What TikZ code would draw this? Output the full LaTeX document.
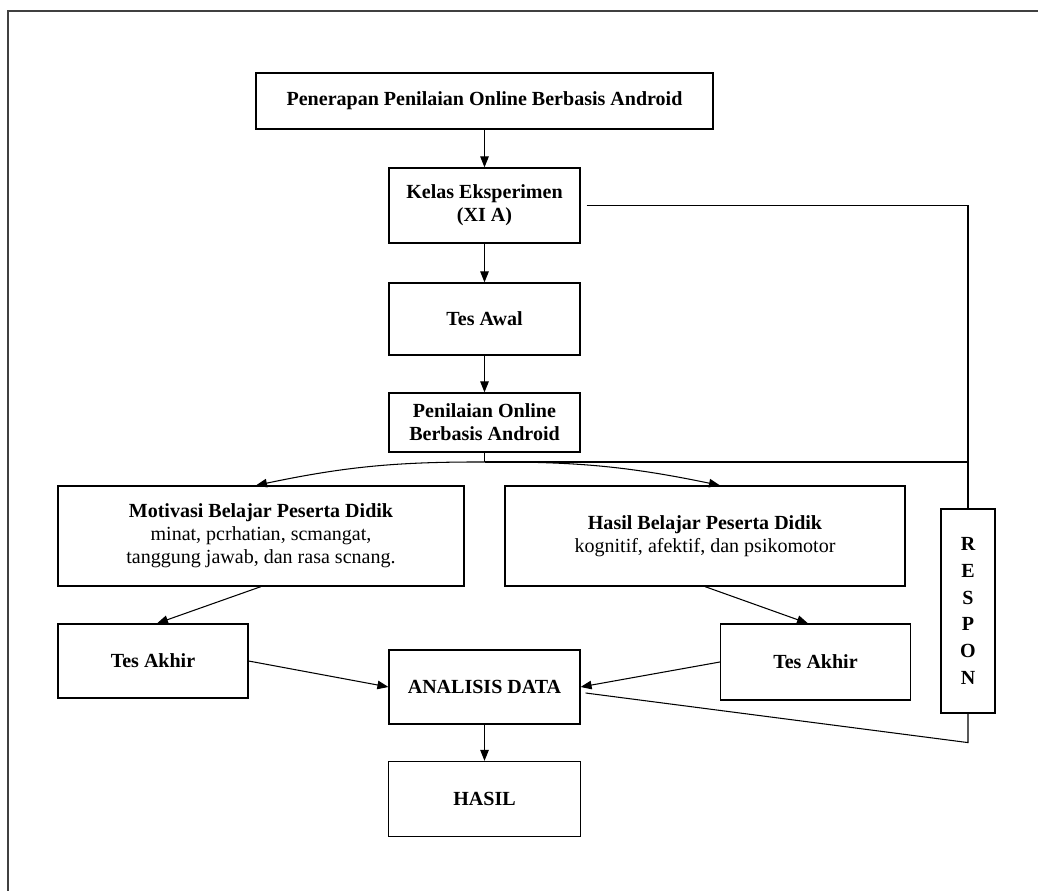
\documentclass[tikz,border=0pt]{standalone}
\usepackage{fontspec}
\setmainfont{Liberation Serif}
\usetikzlibrary{arrows.meta}
\usetikzlibrary{calc}

\begin{document}
\begin{tikzpicture}[x = 0.02cm, y = -0.02cm,
        box/.style = {draw, line width = 0.7pt, align = center, inner sep = 2pt, font = \fontsize{11.4}{13}\selectfont\bfseries},
        flow/.style = {-{Triangle[length = 0.22cm, width = 0.17cm]}, line width = 0.6pt},
        link/.style = {line width = 0.6pt}] % Research flow tikzpic
        \useasboundingbox (0, 0) rectangle (1038, 891);
        \draw[line width = 1.1pt, black!75] (8, 891) -- (8, 11) -- (1038, 11);

        % Main column
        \node[box, minimum width = 9.14cm, minimum height = 1.12cm] (penerapan) at (484.5, 101) {Penerapan Penilaian Online Berbasis Android};
        \node[box, minimum width = 3.82cm, minimum height = 1.5cm] (kelas) at (484.5, 205.5) {Kelas Eksperimen\\(XI A)};
        \node[box, minimum width = 3.82cm, minimum height = 1.44cm] (awal) at (484.5, 319) {Tes Awal};
        \node[box, minimum width = 3.82cm, minimum height = 1.18cm] (penilaian) at (484.5, 422.5) {Penilaian Online\\Berbasis Android};
        \node[box, minimum width = 3.82cm, minimum height = 1.48cm] (analisis) at (484.5, 687) {ANALISIS DATA};
        \node[box, minimum width = 3.84cm, minimum height = 1.5cm] (hasilakhir) at (484.5, 799) {HASIL};

        % Two branches
        \node[box, minimum width = 8.12cm, minimum height = 2cm] (motivasi) at (261, 536) {Motivasi Belajar Peserta Didik\\\mdseries minat, pcrhatian, scmangat,\\\mdseries tanggung jawab, dan rasa scnang.};
        \node[box, minimum width = 8cm, minimum height = 2cm] (hasil) at (705, 536) {Hasil Belajar Peserta Didik\\\mdseries kognitif, afektif, dan psikomotor};
        \node[box, minimum width = 3.8cm, minimum height = 1.48cm] (akhirL) at (153, 661) {Tes Akhir};
        \node[box, minimum width = 3.8cm, minimum height = 1.52cm] (akhirR) at (815.5, 662) {Tes Akhir};
        \node[box, minimum width = 1.08cm, minimum height = 4.08cm, font = \fontsize{11.4}{15.3}\selectfont\bfseries] (respon) at (968, 611) {R\\E\\S\\P\\O\\N};

        % Arrows
        \draw[flow] (penerapan) -- (kelas);
        \draw[flow] (kelas) -- (awal);
        \draw[flow] (awal) -- (penilaian);
        \coordinate (split) at (484.5, 462);
        \draw[link] (penilaian) -- (split);
        \draw[flow] (split) to[bend right = 6] ([xshift = -0.1cm]motivasi.north);
        \draw[flow] (split) to[bend left = 6] ([xshift = 0.3cm]hasil.north);
        \draw[flow] (motivasi.south) -- ([xshift = 0.08cm]akhirL.north);
        \draw[flow] (hasil.south) -- ([xshift = -0.15cm]akhirR.north);
        \draw[flow] (akhirL.east) -- (analisis.west);
        \draw[flow] (akhirR.west) -- (analisis.east);
        \draw[flow] (analisis) -- (hasilakhir);

        % Respon lines
        \draw[link] ([xshift = 0.12cm]kelas.east) -- (kelas.east -| respon.north) -- (respon.north);
        \draw[link] (split) -- (split -| respon.north);
        \coordinate (back) at ($(respon.south) + (0, 29)$);
        \draw[link] ([xshift = 0.1cm, yshift = -0.12cm]analisis.east) -- (back) -- (respon.south);
    \end{tikzpicture}
\end{document}
